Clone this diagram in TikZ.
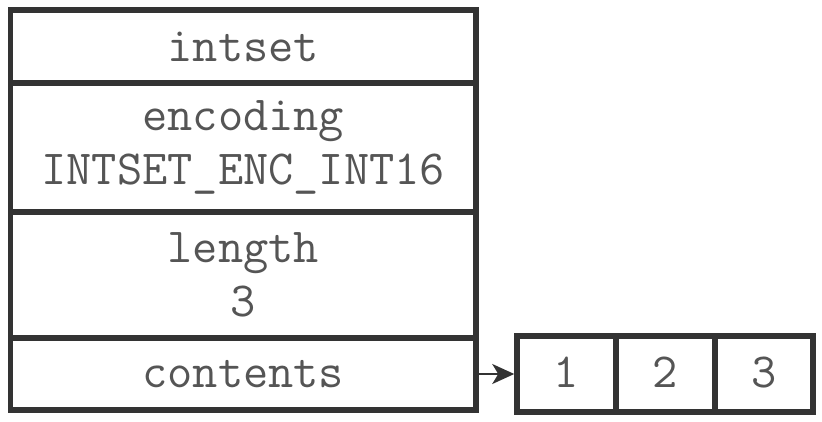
\documentclass[tikz,border=0pt]{standalone}
\usetikzlibrary{arrows.meta}
\definecolor{linegray}{HTML}{333333}
\definecolor{textgray}{HTML}{555555}
\begin{document}
\begin{tikzpicture}[x=1pt,y=-1pt,
  field/.style={draw=linegray,line width=5.5pt,rectangle,minimum width=465.5pt,inner sep=0pt,
    align=center,text=textgray,font=\ttfamily\fontsize{49}{54}\selectfont},
  cell/.style={draw=linegray,line width=5.5pt,rectangle,minimum height=76pt,inner sep=0pt,
    text height=27pt,text depth=0pt,text=textgray,font=\ttfamily\fontsize{49}{54}\selectfont}]
  \useasboundingbox (0,0) rectangle (822,422);
  \node[field,minimum height=73pt] (intset) at (243.25,46.5) {intset};
  \node[field,minimum height=129pt] (encoding) at (243.25,147.5) {encoding\\INTSET\_ENC\_INT16};
  \node[field,minimum height=126pt] (length) at (243.25,275) {length\\3};
  \node[field,minimum height=72pt] (contents) at (243.25,374) {contents};
  \node[cell,minimum width=99pt] (c1) at (566.5,374) {1};
  \node[cell,minimum width=99pt] (c2) at (665.5,374) {2};
  \node[cell,minimum width=98pt] (c3) at (764,374) {3};
  \draw[linegray,line width=2pt,-{Stealth[length=22pt,width=20pt,inset=6pt]}] (contents) -- (c1);
\end{tikzpicture}
\end{document}
